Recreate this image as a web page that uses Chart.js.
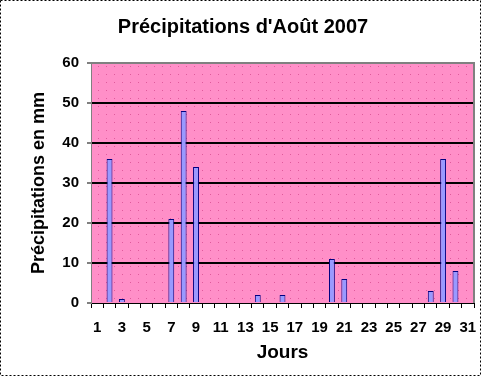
<!DOCTYPE html>
<html>
<head>
<meta charset="utf-8">
<script src="https://cdn.jsdelivr.net/npm/chart.js@4/dist/chart.umd.min.js"></script>
<style>
  html, body { margin: 0; padding: 0; background: #fff; }
  #wrap { width: 481px; height: 376px; }
</style>
</head>
<body>
<div id="wrap"><canvas id="diagram" width="481" height="376"></canvas></div>
<script>
const jours = ['1','2','3','4','5','6','7','8','9','10','11','12','13','14','15','16',
  '17','18','19','20','21','22','23','24','25','26','27','28','29','30','31'];
const pluie = [0, 36, 1, 0, 0, 0, 21, 48, 34, 0, 0, 0, 0, 2, 0, 2,
  0, 0, 0, 11, 6, 0, 0, 0, 0, 0, 0, 3, 36, 8, 0];
const yTicks = [0, 10, 20, 30, 40, 50, 60];

const ctx = document.getElementById('diagram');

// fond rose pointillé + cadre
const fond = {
  id: 'fond',
  beforeDraw(chart) {
    const c = chart.ctx, a = chart.chartArea;
    c.save();
    c.fillStyle = '#ff8fc8';
    c.fillRect(a.left, a.top, a.right - a.left, a.bottom - a.top);
    c.fillStyle = '#e05a9c';
    for (let y = a.top + 3; y < a.bottom; y += 8) {
      for (let x = a.left + 3 + ((y - a.top) % 16 ? 4 : 0); x < a.right; x += 8) {
        c.fillRect(x, y, 1, 1);
      }
    }
    c.restore();
  },
  afterDraw(chart) {
    const c = chart.ctx, a = chart.chartArea;
    c.save();
    c.strokeStyle = '#808080';
    c.lineWidth = 2;
    c.beginPath();
    c.moveTo(a.left, a.top);
    c.lineTo(a.right, a.top);
    c.lineTo(a.right, a.bottom);
    c.stroke();
    c.strokeStyle = '#000';
    c.lineWidth = 1;
    c.setLineDash([2, 2]);
    c.strokeRect(0.5, 0.5, chart.width - 1, chart.height - 1);
    c.restore();
  }
};

new Chart(ctx, {
  type: 'bar',
  data: {
    labels: jours,
    datasets: [{
      data: pluie,
      backgroundColor: '#9999ff',
      borderColor: '#000080',
      borderWidth: 1,
      barPercentage: 0.5,
      categoryPercentage: 0.95
    }]
  },
  plugins: [fond],
  options: {
    responsive: false,
    animation: false,
    layout: { padding: { right: 7, left: 12, bottom: 12 } },
    plugins: {
      legend: { display: false },
      tooltip: { enabled: false },
      title: {
        display: true,
        text: "Précipitations d'Août 2007",
        color: '#000',
        font: { family: 'Liberation Sans', size: 20, weight: 'bold' },
        padding: { top: 15, bottom: 24 }
      }
    },
    scales: {
      x: {
        grid: { offset: true, drawOnChartArea: false, color: '#000', tickLength: 5 },
        border: { color: '#000', width: 1 },
        ticks: {
          autoSkip: false,
          maxRotation: 0,
          color: '#000',
          padding: 11,
          font: { family: 'Liberation Sans', size: 15, weight: 'bold' },
          callback: function (value, index) {
            return index % 2 === 0 ? jours[index] : '';
          }
        },
        title: {
          display: true,
          text: 'Jours',
          color: '#000',
          font: { family: 'Liberation Sans', size: 19, weight: 'bold' },
          padding: { top: 4, bottom: 0 }
        },
        afterFit: function (scale) {
          scale.height = 61;
          scale.paddingLeft = 0;
          scale.paddingRight = 0;
        }
      },
      y: {
        min: 0,
        max: 60,
        afterBuildTicks: function (scale) {
          scale.ticks = yTicks.map(v => ({ value: v }));
        },
        grid: {
          color: function (c) { return c.tick && (c.tick.value === 0 || c.tick.value === 60) ? 'rgba(0,0,0,0)' : '#000'; },
          lineWidth: 2,
          tickLength: 4,
          tickColor: '#808080'
        },
        border: { color: '#808080', width: 1 },
        ticks: {
          color: '#000',
          padding: 8,
          font: { family: 'Liberation Sans', size: 15, weight: 'bold' }
        },
        title: {
          display: true,
          text: 'Précipitations en mm',
          color: '#000',
          font: { family: 'Liberation Sans', size: 18, weight: 'bold' },
          padding: { top: 16, bottom: 2 }
        },
        afterFit: function (scale) { scale.width = 79; }
      }
    }
  }
});
</script>
</body>
</html>
